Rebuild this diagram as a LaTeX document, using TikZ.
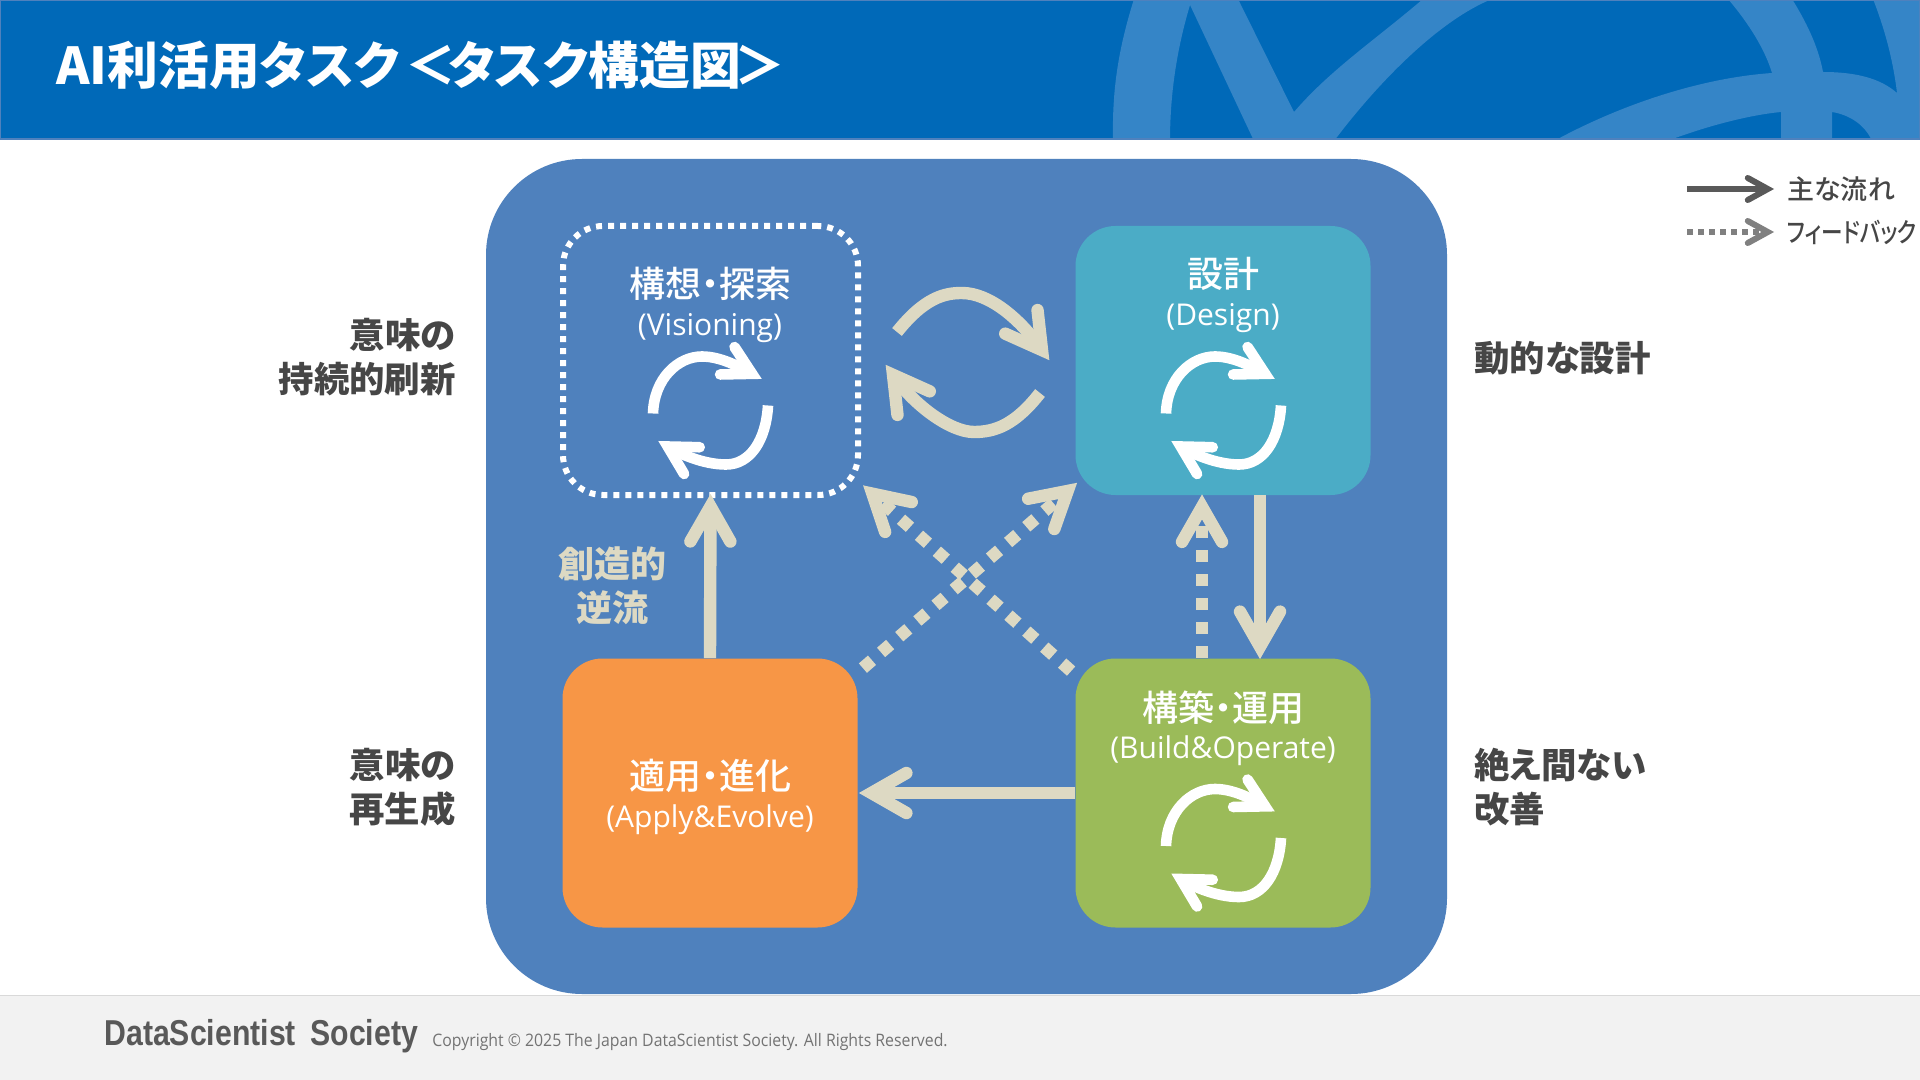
\documentclass[tikz,border=0pt]{standalone}
\usepackage{fontspec}
\setmainfont{Noto Sans CJK JP}[RawFeature=+palt]
\newfontfamily\medfont{Noto Sans CJK JP Medium}[RawFeature=+palt]
\newfontfamily\narrowfont{Noto Sans CJK JP Medium}[RawFeature=+palt,FakeStretch=0.8]
\newfontfamily\latinfont{Open Sans}
\newfontfamily\logofont{Liberation Sans}[FakeStretch=0.84]
\newfontfamily\copyfont{Open Sans}[FakeStretch=0.92]
\usetikzlibrary{arrows.meta}

\definecolor{headcol}{RGB}{0,105,184}
\definecolor{swirlcol}{RGB}{53,133,199}
\definecolor{panelcol}{RGB}{79,129,189}
\definecolor{designcol}{RGB}{75,172,198}
\definecolor{applycol}{RGB}{247,150,70}
\definecolor{buildcol}{RGB}{155,187,89}
\definecolor{flowcol}{RGB}{221,217,195}
\definecolor{sidecol}{RGB}{70,70,70}
\definecolor{footcol}{RGB}{242,242,242}

\tikzset{
  taskbox/.style={minimum width=147.5pt, minimum height=134.5pt,
                  inner sep=0, rounded corners=20pt},
  boxhead/.style={font=\fontsize{18}{20}\selectfont\medfont, text=white, inner sep=0},
  boxsub/.style={font=\fontsize{15}{17}\selectfont\latinfont, text=white, inner sep=0},
  sidelabel/.style={font=\fontsize{17.7}{22}\selectfont\bfseries, text=sidecol, inner sep=0},
  mainflow/.style={-{Straight Barb[length=17.5pt,width=20pt,line cap=round,line join=miter]},
                   flowcol, line width=6.2pt, shorten >=-2pt},
  backflow/.style={mainflow, dash pattern=on 6pt off 6pt},
  iconflow/.style={-{Straight Barb[length=14pt,width=15.5pt,line cap=round,line join=miter]},
                   white, line width=5.3pt, shorten >=-1pt},
  legendflow/.style={-{Straight Barb[length=10pt,width=11pt,line cap=round,line join=miter]},
                   line width=3pt},
  legendtext/.style={font=\fontsize{13.5}{16}\selectfont, text=sidecol, anchor=west, inner sep=0},
  pics/cycleicon/.style={code={
    \draw[iconflow] (-57,53) .. controls (-56,18) and (-32,-4) .. (-8,-4)
                    .. controls (12,-4) and (32,8) .. (50,17.5);
    \draw[iconflow] (58,45) .. controls (56,80) and (40,104) .. (16,104)
                    .. controls (-8,104) and (-32,92) .. (-50,81.5);
  }},
}

\begin{document}
\begin{tikzpicture}[x=0.5pt, y=-0.5pt]
    \useasboundingbox (0,0) rectangle (1920,1080);

    % === Header band ===
    \fill[white] (0,0) rectangle (1920,1080);
    \begin{scope}
      \clip (0,0) rectangle (1920,140);
      \fill[headcol] (0,0) rectangle (1920,140);
      \fill[swirlcol] (1134,-1) .. controls (1118,50) and (1112,90) .. (1113,141)
        -- (1170,141) .. controls (1170,90) and (1178,45) .. (1190,5)
        -- (1254,141) -- (1334,141) .. controls (1380,80) and (1440,20) .. (1492,-1)
        -- (1423,-1) .. controls (1375,40) and (1330,70) .. (1294,112) -- (1238,-1) -- cycle;
      \fill[swirlcol] (1728,-1) .. controls (1750,25) and (1765,50) .. (1772,73)
        .. controls (1700,78) and (1620,105) .. (1554,141) -- (1667,141)
        .. controls (1710,125) and (1750,115) .. (1781,112) -- (1781,141) -- (1832,141)
        -- (1832,112) .. controls (1850,115) and (1865,125) .. (1872,141)
        -- (1921,141) -- (1921,-1) -- (1873,-1) .. controls (1885,30) and (1893,60) .. (1897,93)
        .. controls (1880,78) and (1855,72) .. (1823,72)
        .. controls (1818,45) and (1805,20) .. (1792,-1) -- cycle;
      \draw[panelcol, line width=1pt] (0,0) rectangle (1920,139.5);
    \end{scope}
    \node[font=\fontsize{25.4}{28}\selectfont\bfseries, text=white, anchor=west, inner sep=0]
      (headtitle) at (56,65) {AI利活用タスク\hspace{3pt}＜\hspace{-4pt}タスク構造図\hspace{-3pt}＞};

    % === Footer ===
    \fill[footcol] (0,995) rectangle (1920,1080);
    \draw[black!15, line width=0.5pt] (0,995) -- (1920,995);
    \node[font=\fontsize{18}{20}\selectfont\logofont\bfseries, text=black!65, anchor=west, inner sep=0]
      (logotext) at (104,1036) {DataScientist\hspace{3pt} Society};
    \node[font=\fontsize{8.6}{10}\selectfont\copyfont, text=black!55, anchor=west, inner sep=0]
      (copytext) at (432,1042) {Copyright © 2025 The Japan DataScientist Society. All Rights Reserved.};

    % === Panel and the four task boxes ===
    \fill[panelcol] (486,159) [rounded corners=48pt] rectangle (1447,994);
    \node[taskbox, draw=white, line width=3pt, dash pattern=on 3pt off 3pt] (vision) at (710.5,360.5) {};
    \node[taskbox, fill=designcol] (design) at (1223,360.5) {};
    \node[taskbox, fill=applycol]  (apply)  at (710,793) {};
    \node[taskbox, fill=buildcol]  (build)  at (1223,793) {};

    % box titles, y measured from the reference
    \node[boxhead] (visionhead) at (710,284) {構想・探索};
    \node[boxsub]  (visionsub)  at (710,328) {(Visioning)};
    \node[boxhead] (designhead) at (1223,274) {設計};
    \node[boxsub]  (designsub)  at (1223,318) {(Design)};
    \node[boxhead] (applyhead)  at (710,776) {適用・進化};
    \node[boxsub]  (applysub)   at (710,820) {(Apply\&Evolve)};
    \node[boxhead] (buildhead)  at (1223,708) {構築・運用};
    \node[boxsub]  (buildsub)   at (1223,751) {(Build\&Operate)};

    % cycle marks inside three boxes
    \foreach \bx/\by in {710/360.5, 1223/360.5, 1223/793} {
      \pic at (\bx,\by) {cycleicon};
    }

    % === Arrows between boxes ===
    \draw[mainflow] (apply.north) -- (vision.south);
    \draw[mainflow] ([xshift=18.5pt]design.south) -- ([xshift=18.5pt,yshift=1.5pt]build.north);
    \draw[mainflow] (build.west) -- ([xshift=2.5pt]apply.east);
    \draw[backflow] ([xshift=-10.5pt]build.north) -- ([xshift=-10.5pt,yshift=-1.5pt]design.south);
    \draw[backflow] ([shift={(5,10)}]apply.north east) -- ([shift={(-1,-10)}]design.south west);
    \draw[backflow] ([shift={(-4,13)}]build.north west) -- ([shift={(5,-10)}]vision.south east);

    % two way loop between vision and design
    \coordinate (loopa) at (897,332);
    \coordinate (loopb) at (1047,357);
    \coordinate (loopc) at (1040,393);
    \coordinate (loopd) at (888,368);
    \draw[mainflow] (loopa) .. controls (925,297) and (945,293) .. (962,293)
                    .. controls (990,293) and (1020,320) .. (loopb);
    \draw[mainflow] (loopc) .. controls (1015,425) and (995,432) .. (974,432)
                    .. controls (950,432) and (915,405) .. (loopd);

    \node[font=\fontsize{18}{22}\selectfont\bfseries, text=flowcol, align=center, inner sep=0]
      (backlabel) at (612,586) {創造的\\逆流};

    % === Side labels ===
    \node[sidelabel, align=right, anchor=east] (sidea) at (456,357) {意味の\\持続的刷新};
    \node[sidelabel, align=right, anchor=east] (sideb) at (456,787) {意味の\\再生成};
    \node[sidelabel, align=left, anchor=west]  (sidec) at (1474,358) {動的な設計};
    \node[sidelabel, align=left, anchor=west]  (sided) at (1474,787) {絶え間ない\\改善};

    % === Legend ===
    \coordinate (legmainstart) at (1687,189);
    \coordinate (legmainend) at (1774,189);
    \coordinate (legbackstart) at (1687,232);
    \coordinate (legbackend) at (1774,232);
    \draw[legendflow, black!65] (legmainstart) -- (legmainend);
    \draw[legendflow, black!50, dash pattern=on 3pt off 2.5pt] (legbackstart) -- (legbackend);
    \node[legendtext] (legmain) at (1787,189) {\medfont 主な流れ};
    \node[legendtext] (legback) at (1787,232) {\narrowfont フィードバック};
  \end{tikzpicture}
\end{document}
